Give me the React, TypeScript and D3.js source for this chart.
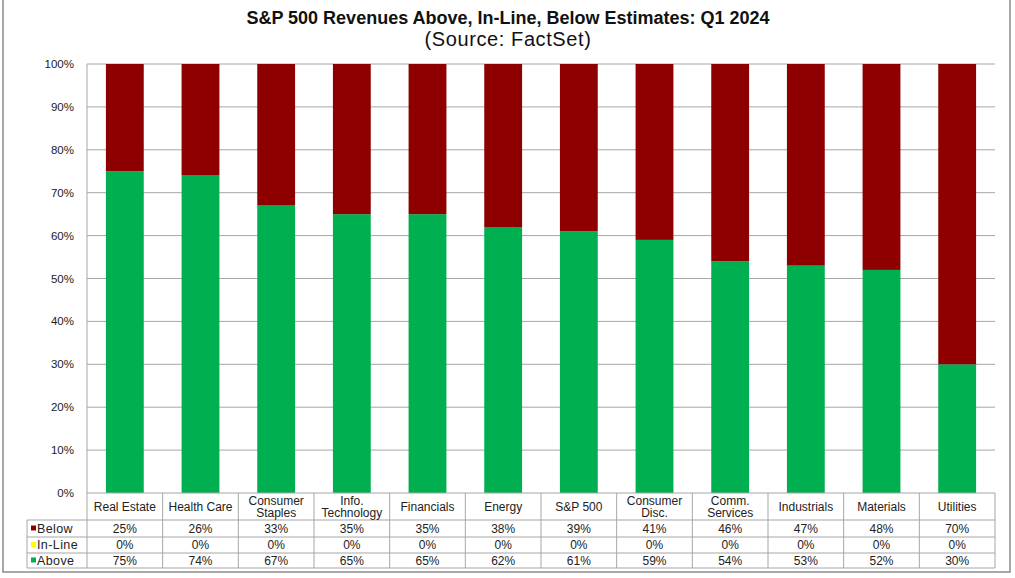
import React from 'react';
import * as d3 from 'd3';

const sectors = [
  ['Real Estate'],
  ['Health Care'],
  ['Consumer', 'Staples'],
  ['Info.', 'Technology'],
  ['Financials'],
  ['Energy'],
  ['S&P 500'],
  ['Consumer', 'Disc.'],
  ['Comm.', 'Services'],
  ['Industrials'],
  ['Materials'],
  ['Utilities'],
];
const below = [25, 26, 33, 35, 35, 38, 39, 41, 46, 47, 48, 70];
const inLine = [0, 0, 0, 0, 0, 0, 0, 0, 0, 0, 0, 0];
const above = [75, 74, 67, 65, 65, 62, 61, 59, 54, 53, 52, 30];
const yTicks = [0, 10, 20, 30, 40, 50, 60, 70, 80, 90, 100];

const series = [
  { name: 'Below', values: below, color: '#8e0000' },
  { name: 'In-Line', values: inLine, color: '#ffff00' },
  { name: 'Above', values: above, color: '#00b050' },
];

const W = 1015;
const H = 578;
const left = 87;
const right = 995;
const top = 64;
const bottom = 493;
const rowH = [27, 17, 16, 15];
const legendX = 27;
const font = 'Liberation Sans, Arial, sans-serif';

export default function App() {
  const x = d3.scaleBand<number>().domain(d3.range(sectors.length)).range([left, right]).paddingInner(0.5).paddingOuter(0.25);
  const xCol = d3.scaleBand<number>().domain(d3.range(sectors.length)).range([left, right]);
  const y = d3.scaleLinear().domain([0, 100]).range([bottom, top]);

  const stackOrder = [series[2], series[1], series[0]];
  const rowY = [bottom];
  rowH.forEach((h, i) => rowY.push(rowY[i] + h));

  return (
    <svg width={W} height={H} style={{ position: 'absolute', left: 0, top: 0, fontFamily: font }}>
      <rect x={0} y={0} width={W} height={H} fill="#fff" />
      <rect x={3} y={-2} width={1007} height={574} fill="none" stroke="#8c8c8c" strokeWidth={1.5} />
      <text x={508} y={24} textAnchor="middle" fontSize={18} fontWeight="bold" fill="#111">
        S&amp;P 500 Revenues Above, In-Line, Below Estimates: Q1 2024
      </text>
      <text x={508} y={46} textAnchor="middle" fontSize={20} letterSpacing={0.6} fill="#111">(Source: FactSet)</text>

      {yTicks.map((t) => (
        <g key={t}>
          {t > 0 && <line x1={left} x2={right} y1={y(t)} y2={y(t)} stroke="#a6a6a6" strokeWidth={1} />}
          <text x={74} y={y(t) + 4} textAnchor="end" fontSize={11.5} fill="#222">{t}%</text>
        </g>
      ))}
      <line x1={left} x2={left} y1={top} y2={bottom} stroke="#a6a6a6" />

      {sectors.map((_, i) => {
        let acc = 0;
        return (
          <g key={i}>
            {stackOrder.map((s) => {
              const v = s.values[i];
              const y0 = acc;
              acc += v;
              if (v === 0) return null;
              return (
                <rect key={s.name} x={x(i)} width={x.bandwidth()} y={y(acc)} height={y(y0) - y(acc)} fill={s.color} />
              );
            })}
          </g>
        );
      })}

      {/* data table */}
      <g stroke="#a6a6a6" strokeWidth={1}>
        <line x1={left} x2={right} y1={rowY[0]} y2={rowY[0]} />
        {rowY.slice(1).map((ry, i) => (
          <line key={i} x1={legendX} x2={right} y1={ry} y2={ry} />
        ))}
        <line x1={legendX} x2={legendX} y1={rowY[1]} y2={rowY[4]} />
        {d3.range(sectors.length + 1).map((i) => {
          const cx = i < sectors.length ? xCol(i)! : right;
          return <line key={i} x1={cx} x2={cx} y1={rowY[0]} y2={rowY[4]} />;
        })}
      </g>
      {sectors.map((lines, i) => {
        const cx = xCol(i)! + xCol.bandwidth() / 2;
        const mid = rowY[0] + rowH[0] / 2;
        return (
          <text key={i} textAnchor="middle" fontSize={12} fill="#222">
            {lines.map((l, j) => (
              <tspan key={j} x={cx} y={mid + 4 + (j - (lines.length - 1) / 2) * 12}>{l}</tspan>
            ))}
          </text>
        );
      })}
      {series.map((s, r) => {
        const cy = rowY[r + 1] + rowH[r + 1] / 2 + 4;
        return (
          <g key={s.name}>
            <rect x={legendX + 4} y={cy - 7} width={5} height={5} fill={s.color} />
            <text x={legendX + 10} y={cy} fontSize={12.5} letterSpacing={0.4} fill="#222">{s.name}</text>
            {s.values.map((v, i) => (
              <text key={i} x={xCol(i)! + xCol.bandwidth() / 2} y={cy} textAnchor="middle" fontSize={12} fill="#222">
                {v}%
              </text>
            ))}
          </g>
        );
      })}
    </svg>
  );
}
